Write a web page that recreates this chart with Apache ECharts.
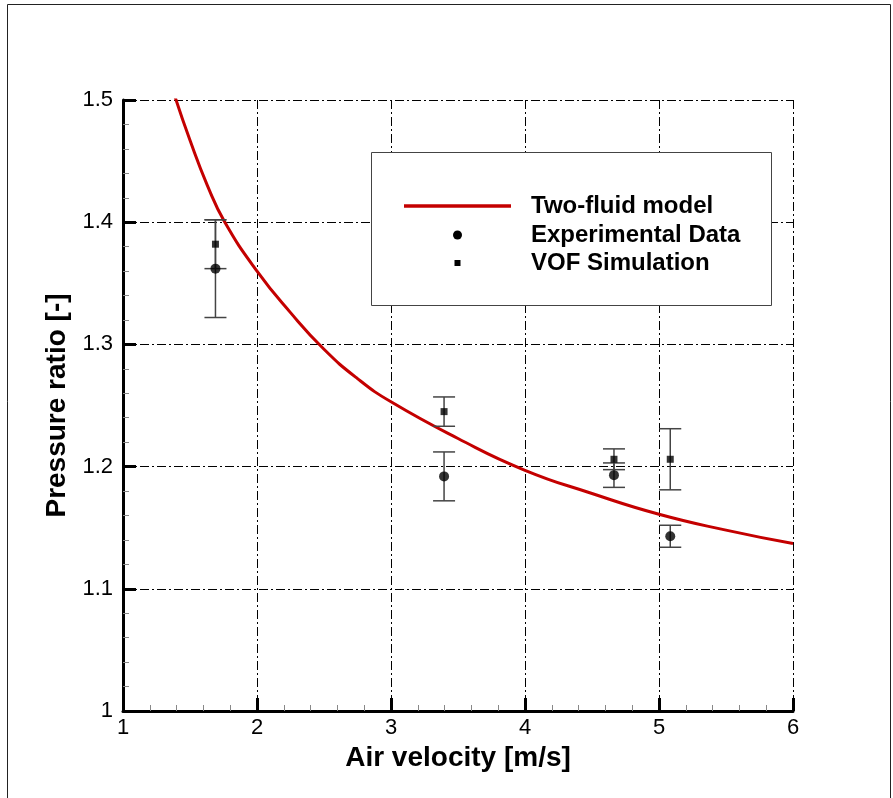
<!DOCTYPE html>
<html>
<head>
<meta charset="utf-8">
<script src="https://cdn.jsdelivr.net/npm/echarts@6/dist/echarts.min.js"></script>
<style>
html,body{margin:0;padding:0;background:#fff;}
#chart{width:893px;height:798px;}
</style>
</head>
<body>
<div id="chart"></div>
<script>
// ---- data ----
const curveX = [1.39, 1.5, 1.63, 1.76, 2.0, 2.25, 2.5, 2.75, 3.0, 3.5, 4.0, 4.5, 5.0, 5.5, 6.0];
const curveY = [1.502, 1.467, 1.430, 1.400, 1.360, 1.326, 1.296, 1.272, 1.253, 1.223, 1.197, 1.178, 1.161, 1.148, 1.137];

const expX = [1.69, 3.396, 4.664, 5.084];
const expY = [1.362, 1.192, 1.193, 1.143];
const expErr = [0.040, 0.020, 0.010, 0.009];

const vofX = [1.69, 3.396, 4.664, 5.084];
const vofY = [1.382, 1.245, 1.206, 1.206];
const vofErr = [0.020, 0.012, 0.0085, 0.025];

const xTicks = [1, 2, 3, 4, 5, 6];
const yTicks = [1, 1.1, 1.2, 1.3, 1.4, 1.5];

const seriesNames = ['Two-fluid model', 'Experimental Data', 'VOF Simulation'];

// ---- build ----
const FONT = "'Liberation Sans', Arial, sans-serif";
const curveData = curveX.map((x, i) => [x, curveY[i]]);
const expData = expX.map((x, i) => [x, expY[i]]);
const vofData = vofX.map((x, i) => [x, vofY[i]]);
const expBars = expX.map((x, i) => [x, expY[i] - expErr[i], expY[i] + expErr[i]]);
const vofBars = vofX.map((x, i) => [x, vofY[i] - vofErr[i], vofY[i] + vofErr[i]]);

function errorBarRender(params, api) {
  const x = api.value(0), lo = api.value(1), hi = api.value(2);
  const pLo = api.coord([x, lo]);
  const pHi = api.coord([x, hi]);
  const w = 11;
  const style = { stroke: '#444', lineWidth: 1.5 };
  return {
    type: 'group',
    children: [
      { type: 'line', shape: { x1: pLo[0], y1: pLo[1], x2: pHi[0], y2: pHi[1] }, style: style },
      { type: 'line', shape: { x1: pLo[0] - w, y1: pLo[1], x2: pLo[0] + w, y2: pLo[1] }, style: style },
      { type: 'line', shape: { x1: pHi[0] - w, y1: pHi[1], x2: pHi[0] + w, y2: pHi[1] }, style: style }
    ]
  };
}

const gridDash = [9, 3, 2, 3];

const chart = echarts.init(document.getElementById('chart'), null, { renderer: 'canvas' });
chart.setOption({
  backgroundColor: '#ffffff',
  animation: false,
  grid: { left: 123, right: 100, top: 100, bottom: 87 },
  xAxis: {
    type: 'value',
    min: xTicks[0], max: xTicks[xTicks.length - 1], interval: 1,
    name: 'Air velocity [m/s]',
    nameLocation: 'middle',
    nameGap: 27,
    nameTextStyle: { fontFamily: FONT, fontSize: 28, fontWeight: 'bold', color: '#000' },
    axisLine: { show: true, onZero: false, lineStyle: { color: '#000', width: 3 } },
    axisTick: { show: true, inside: true, length: 13, lineStyle: { color: '#000', width: 3 } },
    minorTick: { show: true, splitNumber: 5, length: 6, lineStyle: { color: '#888', width: 1 } },
    axisLabel: { fontFamily: FONT, fontSize: 22, color: '#000', margin: 6 },
    splitLine: { show: true, lineStyle: { color: '#000', width: 1, type: gridDash } }
  },
  yAxis: {
    type: 'value',
    min: yTicks[0], max: yTicks[yTicks.length - 1], interval: 0.1,
    name: 'Pressure ratio [-]',
    nameLocation: 'middle',
    nameGap: 48,
    nameTextStyle: { fontFamily: FONT, fontSize: 28, fontWeight: 'bold', color: '#000' },
    axisLine: { show: true, onZero: false, lineStyle: { color: '#000', width: 3 } },
    axisTick: { show: true, inside: true, length: 13, lineStyle: { color: '#000', width: 3 } },
    minorTick: { show: true, splitNumber: 5, length: 6, lineStyle: { color: '#888', width: 1 } },
    axisLabel: { fontFamily: FONT, fontSize: 22, color: '#000', margin: 10 },
    splitLine: { show: true, lineStyle: { color: '#000', width: 1, type: gridDash } }
  },
  series: [
    {
      name: seriesNames[0],
      type: 'line',
      data: curveData,
      smooth: 0.5,
      showSymbol: false,
      symbol: 'none',
      clip: true,
      lineStyle: { color: '#c40000', width: 3 },
      z: 3
    },
    {
      name: seriesNames[1] + ' error',
      type: 'custom',
      renderItem: errorBarRender,
      data: expBars,
      encode: { x: 0, y: [1, 2] },
      z: 4
    },
    {
      name: seriesNames[2] + ' error',
      type: 'custom',
      renderItem: errorBarRender,
      data: vofBars,
      encode: { x: 0, y: [1, 2] },
      z: 4
    },
    {
      name: seriesNames[1],
      type: 'scatter',
      data: expData,
      symbol: 'circle',
      symbolSize: 10,
      itemStyle: { color: '#000' },
      z: 5
    },
    {
      name: seriesNames[2],
      type: 'scatter',
      data: vofData,
      symbol: 'rect',
      symbolSize: 7,
      itemStyle: { color: '#000' },
      z: 5
    }
  ],
  graphic: [
    { type: 'rect', shape: { x: 7.5, y: 4.5, width: 883, height: 820 }, style: { fill: 'none', stroke: '#222', lineWidth: 1 }, z: 0, silent: true },
    { type: 'rect', shape: { x: 371.5, y: 152.5, width: 400, height: 153 }, style: { fill: '#fff', stroke: '#444', lineWidth: 1 }, z: 10 },
    { type: 'line', shape: { x1: 404, y1: 206, x2: 511, y2: 206 }, style: { stroke: '#c40000', lineWidth: 3.5 }, z: 11 },
    { type: 'circle', shape: { cx: 457.5, cy: 235, r: 4.5 }, style: { fill: '#000' }, z: 11 },
    { type: 'rect', shape: { x: 454.5, y: 260, width: 6, height: 6 }, style: { fill: '#000' }, z: 11 },
    { type: 'text', x: 531, y: 206, style: { text: seriesNames[0], font: 'bold 24px ' + FONT, fill: '#000', verticalAlign: 'middle' }, z: 11 },
    { type: 'text', x: 531, y: 235, style: { text: seriesNames[1], font: 'bold 24px ' + FONT, fill: '#000', verticalAlign: 'middle' }, z: 11 },
    { type: 'text', x: 531, y: 263, style: { text: seriesNames[2], font: 'bold 24px ' + FONT, fill: '#000', verticalAlign: 'middle' }, z: 11 }
  ]
});
</script>
</body>
</html>
